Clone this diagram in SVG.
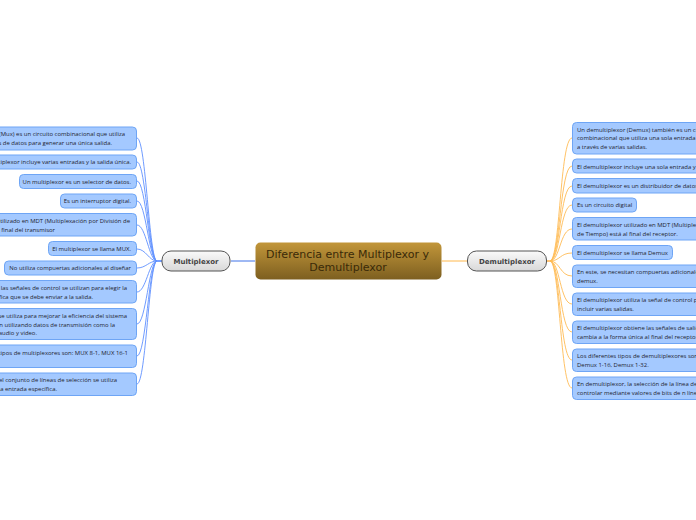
<svg xmlns="http://www.w3.org/2000/svg" width="696" height="520" viewBox="0 0 696 520">
<style>
.n{fill:#a4c9ff;stroke:#6ea5f5;stroke-width:1}
.t{font-family:"Open Sans","Noto Sans",sans-serif;font-size:5.95px;fill:#1f2430}
.e{text-anchor:end}
.m{fill:url(#g2);stroke:#555;stroke-width:1}
.mt{font-family:"DejaVu Sans",sans-serif;font-weight:bold;font-size:7px;fill:#444;text-anchor:middle}
.ct{font-family:"DejaVu Sans",sans-serif;font-size:11px;fill:#3a2a08;text-anchor:middle}
.b{fill:none;stroke:#5f90ff;stroke-width:.9}
.o{fill:none;stroke:#ffbb55;stroke-width:.9}
</style>
<defs>
<linearGradient id="g1" x1="0" y1="0" x2="0" y2="1"><stop offset="0" stop-color="#c2963a"/><stop offset="1" stop-color="#7d5f20"/></linearGradient>
<linearGradient id="g2" x1="0" y1="0" x2="0" y2="1"><stop offset="0" stop-color="#fafafa"/><stop offset="1" stop-color="#d8d8d8"/></linearGradient>
</defs>
<rect width="696" height="520" fill="#fff"/>
<g id="connectors">
<path d="M231 261H255" fill="none" stroke="#3f73e8" stroke-width="1"/>
<path d="M442 261H467" fill="none" stroke="#ffb84d" stroke-width="1"/>
<path d="M156 261H162" fill="none" stroke="#2a6bff" stroke-width="1.3"/>
<path d="M546 261H552" fill="none" stroke="#ffa52e" stroke-width="1.3"/>
<path class="b" d="M157 261C149 261 146 138 137 138"/>
<path class="b" d="M157 261C149 261 146 162 137 162"/>
<path class="b" d="M157 261C149 261 146 181 137 181"/>
<path class="b" d="M157 261C149 261 146 201 137 201"/>
<path class="b" d="M157 261C149 261 146 225 137 225"/>
<path class="b" d="M157 261C149 261 146 249 137 249"/>
<path class="b" d="M157 261C149 261 146 268 137 268"/>
<path class="b" d="M157 261C149 261 146 292 137 292"/>
<path class="b" d="M157 261C149 261 146 324 137 324"/>
<path class="b" d="M157 261C149 261 146 356 137 356"/>
<path class="b" d="M157 261C149 261 146 384 137 384"/>
<path class="o" d="M550 261C560 261 560 138 572 138"/>
<path class="o" d="M550 261C560 261 560 166 572 166"/>
<path class="o" d="M550 261C560 261 560 186 572 186"/>
<path class="o" d="M550 261C560 261 560 205 572 205"/>
<path class="o" d="M550 261C560 261 560 229 572 229"/>
<path class="o" d="M550 261C560 261 560 253 572 253"/>
<path class="o" d="M550 261C560 261 560 276 572 276"/>
<path class="o" d="M550 261C560 261 560 304 572 304"/>
<path class="o" d="M550 261C560 261 560 332 572 332"/>
<path class="o" d="M550 261C560 261 560 360 572 360"/>
<path class="o" d="M550 261C560 261 560 388 572 388"/>
</g>
<g id="central"><rect x="255.5" y="242.5" width="186" height="37" rx="5" fill="url(#g1)"/><text class="ct" x="347.5" y="258">Diferencia entre Multiplexor y</text><text class="ct" x="348" y="271">Demultiplexor</text></g>
<g id="multiplexor"><rect class="m" x="162" y="251" width="68" height="20" rx="9"/><text class="mt" x="196" y="264">Multiplexor</text></g>
<g id="demultiplexor"><rect class="m" x="467.500" y="251" width="79" height="20" rx="9"/><text class="mt" x="507" y="264">Demultiplexor</text></g>
<g id="l1"><rect class="n" x="-30" y="127" width="166.500" height="23" rx="4"/><text class="t e" x="125" y="136">Un multiplexor (Mux) es un circuito combinacional que utiliza</text><text class="t e" x="112" y="145">varias líneas de datos para generar una única salida.</text></g>
<g id="l2"><rect class="n" x="-30" y="155" width="166.500" height="14" rx="4"/><text class="t e" x="131" y="164">Un multiplexor incluye varias entradas y la salida única.</text></g>
<g id="l3"><rect class="n" x="19.500" y="174.500" width="117" height="14" rx="4"/><text class="t e" x="131" y="183.500">Un multiplexor es un selector de datos.</text></g>
<g id="l4"><rect class="n" x="60.500" y="194" width="76" height="14" rx="4"/><text class="t e" x="131" y="203">Es un interruptor digital.</text></g>
<g id="l5"><rect class="n" x="-30" y="213.500" width="166.500" height="22.500" rx="4"/><text class="t e" x="130" y="223">El multiplexor utilizado en MDT (Multiplexación por División de</text><text class="t e" x="55" y="231.500">Tiempo) está al final del transmisor</text></g>
<g id="l6"><rect class="n" x="48.500" y="241.500" width="88" height="14" rx="4"/><text class="t e" x="131" y="251">El multiplexor se llama MUX.</text></g>
<g id="l7"><rect class="n" x="4.500" y="261" width="132" height="14" rx="4"/><text class="t e" x="131" y="270">No utiliza compuertas adicionales al diseñar</text></g>
<g id="l8"><rect class="n" x="-30" y="280.500" width="166.500" height="22.500" rx="4"/><text class="t e" x="127" y="290">En multiplexor, las señales de control se utilizan para elegir la</text><text class="t e" x="93" y="298.500">entrada específica que se debe enviar a la salida.</text></g>
<g id="l9"><rect class="n" x="-30" y="308.500" width="166.500" height="31" rx="4"/><text class="t e" x="127" y="318">El multiplexor se utiliza para mejorar la eficiencia del sistema</text><text class="t e" x="115" y="326.500">de comunicación utilizando datos de transmisión como la</text><text class="t e" x="37" y="335">transmisión de audio y video.</text></g>
<g id="l10"><rect class="n" x="-30" y="345" width="166.500" height="22.500" rx="4"/><text class="t e" x="128" y="354.500">Los diferentes tipos de multiplexores son: MUX 8-1, MUX 16-1</text></g>
<g id="l11"><rect class="n" x="-30" y="373" width="166.500" height="22.500" rx="4"/><text class="t e" x="117" y="382">En multiplexor, el conjunto de líneas de selección se utiliza</text><text class="t e" x="57" y="391">para elegir una entrada específica.</text></g>
<g id="r1"><rect class="n" x="572.500" y="122.500" width="160" height="31.500" rx="4"/><text class="t" x="577" y="131.500">Un demultiplexor (Demux) también es un circuito</text><text class="t" x="577" y="140">combinacional que utiliza una sola entrada para enviar datos</text><text class="t" x="577" y="149">a través de varias salidas.</text></g>
<g id="r2"><rect class="n" x="572.500" y="159" width="160" height="14" rx="4"/><text class="t" x="577" y="168.500">El demultiplexor incluye una sola entrada y varias salidas.</text></g>
<g id="r3"><rect class="n" x="572.500" y="178.500" width="160" height="14.500" rx="4"/><text class="t" x="577" y="188">El demultiplexor es un distribuidor de datos.</text></g>
<g id="r4"><rect class="n" x="572.500" y="198" width="64" height="14" rx="4"/><text class="t" x="577" y="207">Es un circuito digital</text></g>
<g id="r5"><rect class="n" x="572.500" y="217.500" width="160" height="22.500" rx="4"/><text class="t" x="577" y="226.500">El demultiplexor utilizado en MDT (Multiplexación por División</text><text class="t" x="577" y="235.500">de Tiempo) está al final del receptor.</text></g>
<g id="r6"><rect class="n" x="572.500" y="245.500" width="100" height="14" rx="4"/><text class="t" x="577" y="255">El demultiplexor se llama Demux</text></g>
<g id="r7"><rect class="n" x="572.500" y="265" width="160" height="22.500" rx="4"/><text class="t" x="577" y="274">En este, se necesitan compuertas adicionales al diseñar</text><text class="t" x="577" y="283">demux.</text></g>
<g id="r8"><rect class="n" x="572.500" y="293" width="160" height="22.500" rx="4"/><text class="t" x="577" y="302">El demultiplexor utiliza la señal de control para</text><text class="t" x="577" y="311">incluir varias salidas.</text></g>
<g id="r9"><rect class="n" x="572.500" y="321" width="160" height="22.500" rx="4"/><text class="t" x="577" y="330">El demultiplexor obtiene las señales de salida y las</text><text class="t" x="577" y="339">cambia a la forma única al final del receptor.</text></g>
<g id="r10"><rect class="n" x="572.500" y="349" width="160" height="22.500" rx="4"/><text class="t" x="577" y="358">Los diferentes tipos de demultiplexores son:</text><text class="t" x="577" y="367">Demux 1-16, Demux 1-32.</text></g>
<g id="r11"><rect class="n" x="572.500" y="377" width="160" height="22.500" rx="4"/><text class="t" x="577" y="386">En demultiplexor, la selección de la línea de salida se puede</text><text class="t" x="577" y="395">controlar mediante valores de bits de n líneas.</text></g>
</svg>
